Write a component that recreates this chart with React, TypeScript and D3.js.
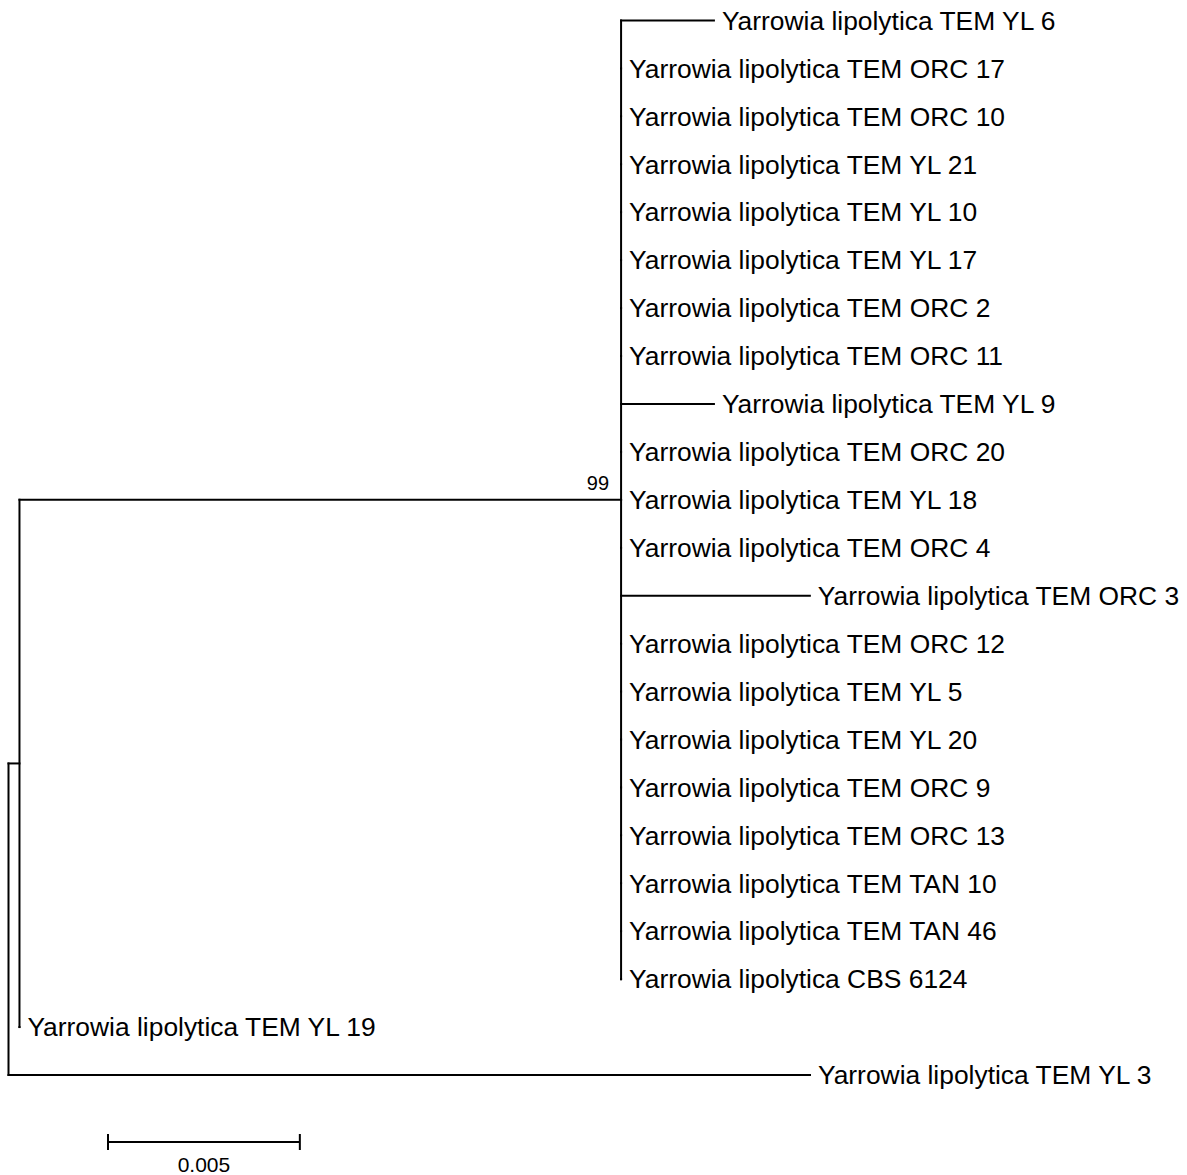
import React from "react";
import * as d3 from "d3";

// Clade (bootstrap 99) taxa, top to bottom, with terminal branch lengths
const cladeTaxa = [
  "Yarrowia lipolytica TEM YL 6",
  "Yarrowia lipolytica TEM ORC 17",
  "Yarrowia lipolytica TEM ORC 10",
  "Yarrowia lipolytica TEM YL 21",
  "Yarrowia lipolytica TEM YL 10",
  "Yarrowia lipolytica TEM YL 17",
  "Yarrowia lipolytica TEM ORC 2",
  "Yarrowia lipolytica TEM ORC 11",
  "Yarrowia lipolytica TEM YL 9",
  "Yarrowia lipolytica TEM ORC 20",
  "Yarrowia lipolytica TEM YL 18",
  "Yarrowia lipolytica TEM ORC 4",
  "Yarrowia lipolytica TEM ORC 3",
  "Yarrowia lipolytica TEM ORC 12",
  "Yarrowia lipolytica TEM YL 5",
  "Yarrowia lipolytica TEM YL 20",
  "Yarrowia lipolytica TEM ORC 9",
  "Yarrowia lipolytica TEM ORC 13",
  "Yarrowia lipolytica TEM TAN 10",
  "Yarrowia lipolytica TEM TAN 46",
  "Yarrowia lipolytica CBS 6124",
];
const cladeLengths = [
  0.00242, 0, 0, 0, 0, 0, 0, 0, 0.00242, 0, 0, 0, 0.00492, 0, 0, 0, 0, 0, 0, 0, 0,
];
const cladeStem = 0.01568; // inner node -> clade node
const cladeBootstrap = "99";
const sisterTaxon = "Yarrowia lipolytica TEM YL 19";
const sisterLength = 0;
const innerStem = 0.000286; // root -> inner node
const outgroupTaxon = "Yarrowia lipolytica TEM YL 3";
const outgroupLength = 0.02089;
const scaleBarValue = 0.005;
const scaleBarLabel = "0.005";

type N = { name?: string; length: number; label?: string; children?: N[] };

const treeData: N = {
  length: 0,
  children: [
    {
      length: innerStem,
      children: [
        {
          length: cladeStem,
          label: cladeBootstrap,
          children: cladeTaxa.map((name, i) => ({ name, length: cladeLengths[i] })),
        },
        { name: sisterTaxon, length: sisterLength },
      ],
    },
    { name: outgroupTaxon, length: outgroupLength },
  ],
};

export default function App() {
  const W = 1187;
  const H = 1175;
  const root = d3.hierarchy<N>(treeData);
  root.each((n: any) => {
    n.dist = (n.parent ? n.parent.dist : 0) + n.data.length;
  });
  const leaves = root.leaves();
  const maxDist = d3.max(leaves, (l: any) => l.dist) as number;
  const x = d3.scaleLinear().domain([0, maxDist]).range([8.5, 810]);
  const y = d3
    .scaleLinear()
    .domain([0, leaves.length - 1])
    .range([20.5, 1075]);
  leaves.forEach((l: any, i) => (l.yy = y(i)));
  root.eachAfter((n: any) => {
    if (n.children) {
      n.yy = (n.children[0].yy + n.children[n.children.length - 1].yy) / 2;
    }
  });

  const paths: string[] = [];
  root.each((n: any) => {
    if (n.parent) {
      paths.push(`M${x(n.parent.dist)},${n.yy}H${x(n.dist)}`);
    }
    if (n.children) {
      const ys = n.children.map((c: any) => c.yy);
      paths.push(`M${x(n.dist)},${d3.min(ys)}V${d3.max(ys)}`);
    }
  });

  const font = "'Liberation Sans', Arial, sans-serif";
  const barX0 = 108;
  const barX1 = barX0 + (x(scaleBarValue) - x(0));
  const barY = 1142;

  return (
    <svg width={W} height={H} style={{ position: "absolute", left: 0, top: 0, background: "#fff" }}>
      <rect width={W} height={H} fill="#fff" />
      {paths.map((d, i) => (
        <path key={i} d={d} stroke="#000" strokeWidth={2} fill="none" strokeLinecap="square" />
      ))}
      {leaves.map((l: any, i) => (
        <text
          key={i}
          x={x(l.dist) + 8}
          y={l.yy}
          dy="0.35em"
          fontFamily={font}
          fontSize={26.4}
          fill="#000"
        >
          {l.data.name}
        </text>
      ))}
      {root
        .descendants()
        .filter((n: any) => n.data.label)
        .map((n: any, i) => (
          <text
            key={i}
            x={x(n.dist) - 12}
            y={n.yy - 10}
            textAnchor="end"
            fontFamily={font}
            fontSize={20}
            fill="#000"
          >
            {n.data.label}
          </text>
        ))}
      <path
        d={`M${barX0},${barY}H${barX1}M${barX0},${barY - 8}V${barY + 8}M${barX1},${barY - 8}V${barY + 8}`}
        stroke="#000"
        strokeWidth={2}
        fill="none"
      />
      <text
        x={(barX0 + barX1) / 2}
        y={1172}
        textAnchor="middle"
        fontFamily={font}
        fontSize={21}
        fill="#000"
      >
        {scaleBarLabel}
      </text>
    </svg>
  );
}
